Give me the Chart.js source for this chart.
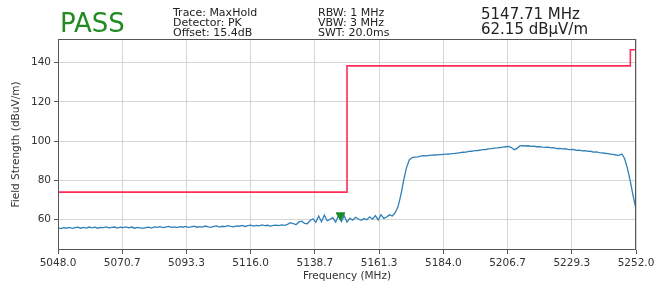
<!DOCTYPE html>
<html>
<head>
<meta charset="utf-8">
<script src="https://cdn.jsdelivr.net/npm/chart.js@4.4.1/dist/chart.umd.min.js"></script>
<style>
  html, body { margin: 0; padding: 0; background: #fff; }
  #wrap { position: relative; width: 666px; height: 287px; overflow: hidden; font-family: 'DejaVu Sans', sans-serif; }
  canvas { position: absolute; left: 0; top: 0; }
  .hdr { position: absolute; white-space: nowrap; color: #222; }
  #pass { left: 60px; top: 10px; font-size: 26px; line-height: 26px; color: #228b22; }
  .info { font-size: 11px; line-height: 10px; top: 8px; }
  #col1 { left: 173px; }
  #col2 { left: 318px; }
  .mk { left: 481px; font-size: 15px; line-height: 15px; }
  #mk1 { top: 7px; }
  #mk2 { top: 22px; }
</style>
</head>
<body>
<div id="wrap">
  <canvas id="c" width="666" height="287"></canvas>
  <div class="hdr" id="pass">PASS</div>
  <div class="hdr info" id="col1">Trace: MaxHold<br>Detector: PK<br>Offset: 15.4dB</div>
  <div class="hdr info" id="col2">RBW: 1 MHz<br>VBW: 3 MHz<br>SWT: 20.0ms</div>
  <div class="hdr mk" id="mk1">5147.71 MHz</div>
  <div class="hdr mk" id="mk2">62.15 dBµV/m</div>
</div>
<script>
// ---- data ----
const traceFreqs = [
5048,5049,5050,5051,5052,5053,5054,5055,5056,5057,
5058,5059,5060,5061,5062,5063,5064,5065,5066,5067,
5068,5069,5070,5071,5072,5073,5074,5075,5076,5077,
5078,5079,5080,5081,5082,5083,5084,5085,5086,5087,
5088,5089,5090,5091,5092,5093,5094,5095,5096,5097,
5098,5099,5100,5101,5102,5103,5104,5105,5106,5107,
5108,5109,5110,5111,5112,5113,5114,5115,5116,5117,
5118,5119,5120,5121,5122,5123,5124,5125,5126,5127,
5128,5129,5130,5131,5132,5133,5134,5135,5136,5137,
5138,5139,5140,5141,5142,5143,5144,5145,5146,5147,
5148,5149,5150,5151,5152,5153,5154,5155,5156,5157,
5158,5159,5160,5161,5162,5163,5164,5165,
5166,5167,5168,5169,5170,5171,5172,
5173,5174,5175,5176,5177,5178,5179,5180,5181,5182,
5183,5184,5185,5186,5187,5188,5189,5190,5191,5192,
5193,5194,5195,5196,5197,5198,5199,5200,5201,5202,
5203,5204,5205,5206,5207,5208,5209,5210,5211,
5212,5213,5214,5215,5216,5217,5218,5219,5220,5221,
5222,5223,5224,5225,5226,5227,5228,5229,5230,5231,
5232,5233,5234,5235,5236,5237,5238,5239,5240,5241,
5242,5243,5244,5245,5246,5247,5248,5249,5250,5251,5252
];
const traceLevels = [
55.8,55.4,55.9,55.6,56.0,55.5,55.9,56.1,55.6,56.0,
55.7,56.2,55.8,56.1,55.6,56.0,55.9,56.3,55.8,56.0,
56.2,55.7,56.1,55.9,56.3,55.8,56.2,55.6,56.0,55.8,
55.5,55.9,56.1,55.7,56.3,56.0,56.4,55.9,56.2,56.5,
56.0,56.3,55.9,56.4,56.1,56.5,56.0,56.3,56.6,56.1,
56.4,56.2,56.7,56.3,56.0,56.5,56.8,56.2,56.6,56.4,
56.9,56.5,56.3,56.8,56.6,57.0,56.5,56.9,57.2,56.7,
57.0,56.8,57.3,56.9,57.1,56.7,57.0,57.2,56.9,57.3,
57.1,57.6,58.4,58.0,57.4,58.8,59.2,58.1,57.9,59.5,
60.4,58.6,61.8,58.9,62.3,59.4,60.1,61.0,58.7,62.15,
59.0,61.9,58.8,60.6,59.7,61.2,60.3,59.6,60.5,59.9,
61.4,60.2,62.0,59.8,62.5,60.6,61.3,62.4,
61.8,63.5,66.5,72.5,80.0,86.5,90.4,
91.6,91.8,91.9,92.3,92.6,92.5,92.7,92.8,92.9,93.0,
93.1,93.2,93.3,93.4,93.6,93.7,93.9,94.1,94.3,94.4,
94.7,94.8,95.1,95.2,95.4,95.6,95.7,96.0,96.1,96.4,
96.5,96.7,96.9,97.1,97.3,96.7,95.6,96.3,97.5,
97.7,97.5,97.6,97.3,97.4,97.1,97.2,96.9,96.8,96.9,
96.5,96.6,96.2,96.3,96.0,96.1,95.8,95.6,95.7,95.3,
95.4,95.0,95.1,94.7,94.8,94.4,94.5,94.1,94.0,93.8,
93.6,93.4,93.2,92.9,92.7,93.4,91.0,86.0,79.5,72.0,65.5
];
const limitFreqs  = [5048, 5150, 5150, 5250, 5250, 5252];
const limitLevels = [74.0, 74.0, 138.3, 138.3, 146.5, 146.5];
const markerFreqs  = [5147.71];
const markerLevels = [62.15];
const xTickValues = [5048.0, 5070.667, 5093.333, 5116.0, 5138.667, 5161.333, 5184.0, 5206.667, 5229.333, 5252.0];
const xTickLabels = ['5048.0','5070.7','5093.3','5116.0','5138.7','5161.3','5184.0','5206.7','5229.3','5252.0'];
const yTickValues = [60, 80, 100, 120, 140];
const yTickLabels = ['60','80','100','120','140'];

const toXY = (xs, ys) => xs.map((x, i) => ({ x: x, y: ys[i] }));

const framePlugin = {
  id: 'frame',
  afterDatasetsDraw(chart) {
    const { ctx, chartArea: a } = chart;
    ctx.save();
    ctx.strokeStyle = '#555';
    ctx.lineWidth = 1;
    ctx.strokeRect(Math.round(a.left) + 0.5, Math.round(a.top) + 0.5,
                   Math.round(a.right - a.left) - 1, Math.round(a.bottom - a.top) - 1);
    ctx.restore();
  }
};

const font = { family: "'DejaVu Sans', sans-serif", size: 10.5 };

new Chart(document.getElementById('c'), {
  type: 'line',
  data: {
    datasets: [
      {
        label: 'Limit',
        data: toXY(limitFreqs, limitLevels),
        borderColor: '#ff2d55',
        borderWidth: 1.6,
        pointRadius: 0,
        tension: 0,
        order: 2
      },
      {
        label: 'Trace',
        data: toXY(traceFreqs, traceLevels),
        borderColor: '#2f80b8',
        borderWidth: 1.3,
        pointRadius: 0,
        tension: 0,
        order: 1
      },
      {
        type: 'scatter',
        label: 'Marker',
        data: toXY(markerFreqs, markerLevels),
        backgroundColor: '#1a8a2a',
        borderColor: '#1a8a2a',
        pointStyle: 'triangle',
        rotation: 180,
        pointRadius: 5,
        order: 0
      }
    ]
  },
  options: {
    responsive: false,
    animation: false,
    events: [],
    layout: { padding: { top: 39, right: 30, left: 0, bottom: 0 } },
    plugins: { legend: { display: false }, tooltip: { enabled: false } },
    scales: {
      x: {
        type: 'linear',
        min: 5048,
        max: 5252,
        afterBuildTicks: (axis) => { axis.ticks = xTickValues.map(v => ({ value: v })); },
        afterFit: (axis) => { axis.height = 37; },
        ticks: {
          font: font,
          color: '#333',
          padding: 3,
          maxRotation: 0,
          autoSkip: false,
          callback: (v, i) => xTickLabels[i]
        },
        grid: { color: '#d6d6d6', tickColor: '#555', tickLength: 4, lineWidth: 1 },
        border: { display: false },
        title: { display: true, text: 'Frequency (MHz)', font: font, color: '#333', padding: { top: 0, bottom: 4 } }
      },
      y: {
        type: 'linear',
        min: 44.5,
        max: 152,
        afterBuildTicks: (axis) => { axis.ticks = yTickValues.map(v => ({ value: v })); },
        afterFit: (axis) => { axis.width = 58; },
        ticks: {
          font: font,
          color: '#333',
          padding: 3,
          callback: (v, i) => yTickLabels[i]
        },
        grid: { color: '#d6d6d6', tickColor: '#555', tickLength: 4, lineWidth: 1 },
        border: { display: false },
        title: { display: true, text: 'Field Strength (dBuV/m)', font: font, color: '#333', padding: { top: 10, bottom: 0 } }
      }
    }
  },
  plugins: [framePlugin]
});
</script>
</body>
</html>
